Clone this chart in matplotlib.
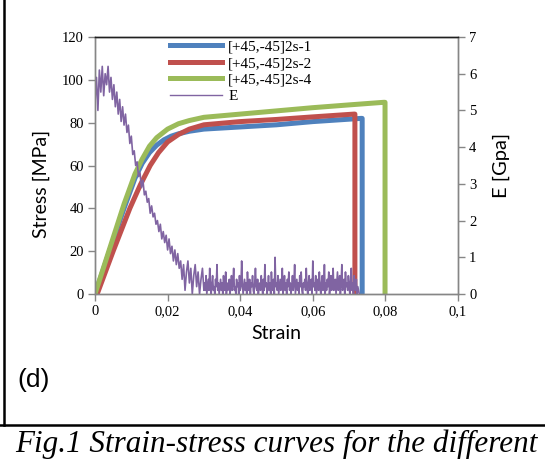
import numpy as np
import matplotlib
matplotlib.use("Agg")
from matplotlib import pyplot as plt
from matplotlib.lines import Line2D

# stress-strain curves
strain_1 = [0, 0.004, 0.008, 0.011, 0.013, 0.015, 0.017, 0.019, 0.021, 0.023,
            0.026, 0.03, 0.04, 0.05, 0.06, 0.0733, 0.0736, 0.0736]
stress_1 = [0, 20, 40, 54, 61, 66, 69.5, 72, 73.7, 74.8,
            76, 77, 78, 79, 80.5, 82, 82, 0]

strain_2 = [0.0006, 0.005, 0.0096, 0.0125, 0.0152, 0.0175, 0.02, 0.023, 0.026,
            0.03, 0.04, 0.05, 0.06, 0.0713, 0.0716, 0.0716]
stress_2 = [0, 20, 40, 51, 60, 66, 71, 74.5, 77,
            79, 80.5, 81.5, 82.7, 84, 84, 0]

strain_4 = [0, 0.004, 0.008, 0.011, 0.013, 0.015, 0.017, 0.02, 0.023, 0.026,
            0.03, 0.04, 0.05, 0.06, 0.07, 0.0795, 0.0799, 0.0799]
stress_4 = [0, 21, 42, 56, 63, 69, 73, 77, 79.5, 81,
            82.5, 84, 85.5, 87, 88.3, 89.5, 89.5, 0]

# modulus E [GPa]: first part every 0.0004 strain (0 .. 0.03)
e_head = [
    5.2, 5.9, 5.0, 6.1, 5.5, 6.2, 5.4, 6.0, 5.7, 6.2, 5.5,
    5.9, 5.3, 5.7, 5.1, 5.5, 4.9, 5.3, 4.7, 5.1, 4.6,
    4.9, 4.4, 4.6, 4.1, 4.3, 3.8, 3.9, 3.5, 3.6, 3.2,
    3.3, 2.9, 3.1, 2.7, 2.8, 2.5, 2.6, 2.2, 2.4, 2.1, 2.2, 1.9, 2.0,
    1.7, 1.9, 1.5, 1.7, 1.4, 1.6, 1.2, 1.5, 1.1, 1.3, 0.9, 1.2, 0.8, 1.1, 0.7,
    0.9, 0.4, 0.8, 0.1, 0.6, 0.9, 0.3, 0.7, 0.0, 0.5, 0.8, 0.2, 0.6, 0.0, 0.4, 0.7, 0.1,
]
# rest every 0.0002 strain (0.0302 .. 0.0728)
e_tail = [
    0.3, 0.1, 0.5, 0.0, 0.2, 0.4, 0.1, 0.7, 0.2, 0.0, 0.3, 0.5, 0.1, 0.2, 0.0, 0.4, 0.2, 0.8, 0.1, 0.3,
    0.0, 0.2, 0.4, 0.1, 0.3, 0.0, 0.5, 0.2, 0.1, 0.6, 0.0, 0.3, 0.1, 0.2, 0.4, 0.0, 0.2, 0.5, 0.1, 0.3,
    0.7, 0.1, 0.2, 0.0, 0.4, 0.2, 0.3, 0.0, 0.5, 0.1, 0.2, 0.9, 0.3, 0.0, 0.2, 0.4, 0.1, 0.3, 0.0, 0.6,
    0.2, 0.1, 0.4, 0.0, 0.3, 0.2, 0.5, 0.1, 0.0, 0.3, 0.7, 0.2, 0.1, 0.4, 0.0, 0.2, 0.3, 0.1, 0.5, 0.2,
    0.0, 0.4, 0.1, 0.8, 0.2, 0.3, 0.0, 0.2, 0.5, 0.1, 0.3, 0.0, 0.6, 0.2, 0.1, 0.4, 0.0, 1.0, 0.2, 0.3,
    0.1, 0.5, 0.0, 0.2, 0.4, 0.1, 0.3, 0.7, 0.0, 0.2, 0.5, 0.1, 0.3, 0.0, 0.4, 0.2, 0.6, 0.1, 0.3, 0.0,
    0.2, 0.5, 0.1, 0.3, 0.8, 0.0, 0.2, 0.4, 0.1, 0.3, 0.0, 0.5, 0.2, 0.6, 0.1, 0.0, 0.3, 0.2, 0.4, 0.1,
    0.7, 0.2, 0.0, 0.3, 0.5, 0.1, 0.2, 0.4, 0.0, 0.9, 0.2, 0.3, 0.1, 0.5, 0.0, 0.2, 0.4, 0.1, 0.6, 0.2,
    0.0, 0.3, 0.5, 0.1, 0.2, 0.8, 0.0, 0.3, 0.1, 0.4, 0.2, 0.6, 0.0, 0.2, 0.5, 0.1, 0.3, 0.7, 0.1, 0.2,
    0.4, 0.0, 0.3, 0.6, 0.1, 0.2, 0.5, 0.0, 0.3, 0.8, 0.1, 0.2, 0.4, 0.0, 0.6, 0.2, 0.3, 0.1, 0.5, 0.2,
    0.0, 0.4, 0.7, 0.1, 0.3, 0.0, 0.5, 0.2, 0.1, 0.4, 0.0, 0.2, 0.1, 0.0,
]
e_gpa = e_head + e_tail
e_strain = np.concatenate([np.linspace(0, 0.03, len(e_head)),
                           np.linspace(0.0302, 0.0728, len(e_tail))])

labels = ["[+45,-45]2s-1", "[+45,-45]2s-2", "[+45,-45]2s-4", "E"]
x_ticks = [0, 0.02, 0.04, 0.06, 0.08, 0.1]
x_ticklabels = ["0", "0,02", "0,04", "0,06", "0,08", "0,1"]
y_ticks = [0, 20, 40, 60, 80, 100, 120]
e_ticks = [0, 1, 2, 3, 4, 5, 6, 7]

blue, red, green, purple = "#4F81BD", "#C0504D", "#9BBB59", "#8064A2"
grey = "#868686"
serif = "Liberation Serif"
sans = "Lato"

fig = plt.figure(figsize=(5.45, 4.61), dpi=100)
ax = fig.add_axes([95 / 545, 1 - 294 / 461, 363 / 545, 257 / 461])
ax2 = ax.twinx()

ax.plot(strain_1, stress_1, color=blue, lw=3.6, solid_joinstyle="round")
ax.plot(strain_2, stress_2, color=red, lw=3.6, solid_joinstyle="round")
ax.plot(strain_4, stress_4, color=green, lw=3.6, solid_joinstyle="round")
ax2.plot(e_strain, e_gpa, color=purple, lw=1.2)

ax.set_xlim(0, 0.1)
ax.set_ylim(0, 120)
ax2.set_ylim(0, 7)

ax.set_xticks(x_ticks)
ax.set_xticklabels(x_ticklabels, family=serif, fontsize=10.5)
ax.set_yticks(y_ticks)
ax.set_yticklabels([str(v) for v in y_ticks], family=serif, fontsize=10.5)
ax2.set_yticks(e_ticks)
ax2.set_yticklabels([str(v) for v in e_ticks], family=serif, fontsize=10.5)

for a in (ax, ax2):
    for side in ("left", "right", "bottom"):
        a.spines[side].set_color(grey)
        a.spines[side].set_linewidth(1)
    a.spines["top"].set_color("#202020")
    a.spines["top"].set_linewidth(1)
    a.tick_params(direction="out", length=5, color=grey, width=1, pad=3)

ax.set_xlabel("Strain", family=sans, fontsize=14, labelpad=5)
ax.set_ylabel("Stress [MPa]", family=sans, fontsize=14, labelpad=9)
ax.yaxis.label.set_y(0.43)
ax2.set_ylabel("E [Gpa]", family=sans, fontsize=14.5, labelpad=12)

handles = [
    Line2D([], [], color=blue, lw=3.6),
    Line2D([], [], color=red, lw=3.6),
    Line2D([], [], color=green, lw=3.6),
    Line2D([], [], color=purple, lw=1.0),
]
ax2.legend(handles, labels, loc="upper left", bbox_to_anchor=(0.19, 1.012),
           frameon=False, prop={"family": serif, "size": 11},
           handlelength=3.4, handletextpad=0.4, labelspacing=0.18,
           borderaxespad=0)

# surrounding frame and caption
fig.add_artist(Line2D([0, 1], [1 - 425 / 461] * 2, color="black", lw=1.8,
                      transform=fig.transFigure))
fig.add_artist(Line2D([4 / 545] * 2, [1 - 425 / 461, 1], color="black", lw=1.8,
                      transform=fig.transFigure))
fig.text(17 / 545, 1 - 380 / 461, "(d)", family="Liberation Sans", fontsize=19,
         va="center", ha="left")
fig.text(15 / 545, 1 - 452 / 461, "Fig.1 Strain-stress curves for the different",
         family=serif, style="italic", fontsize=22.4, va="baseline", ha="left")

fig.savefig("out.png", dpi=100)
